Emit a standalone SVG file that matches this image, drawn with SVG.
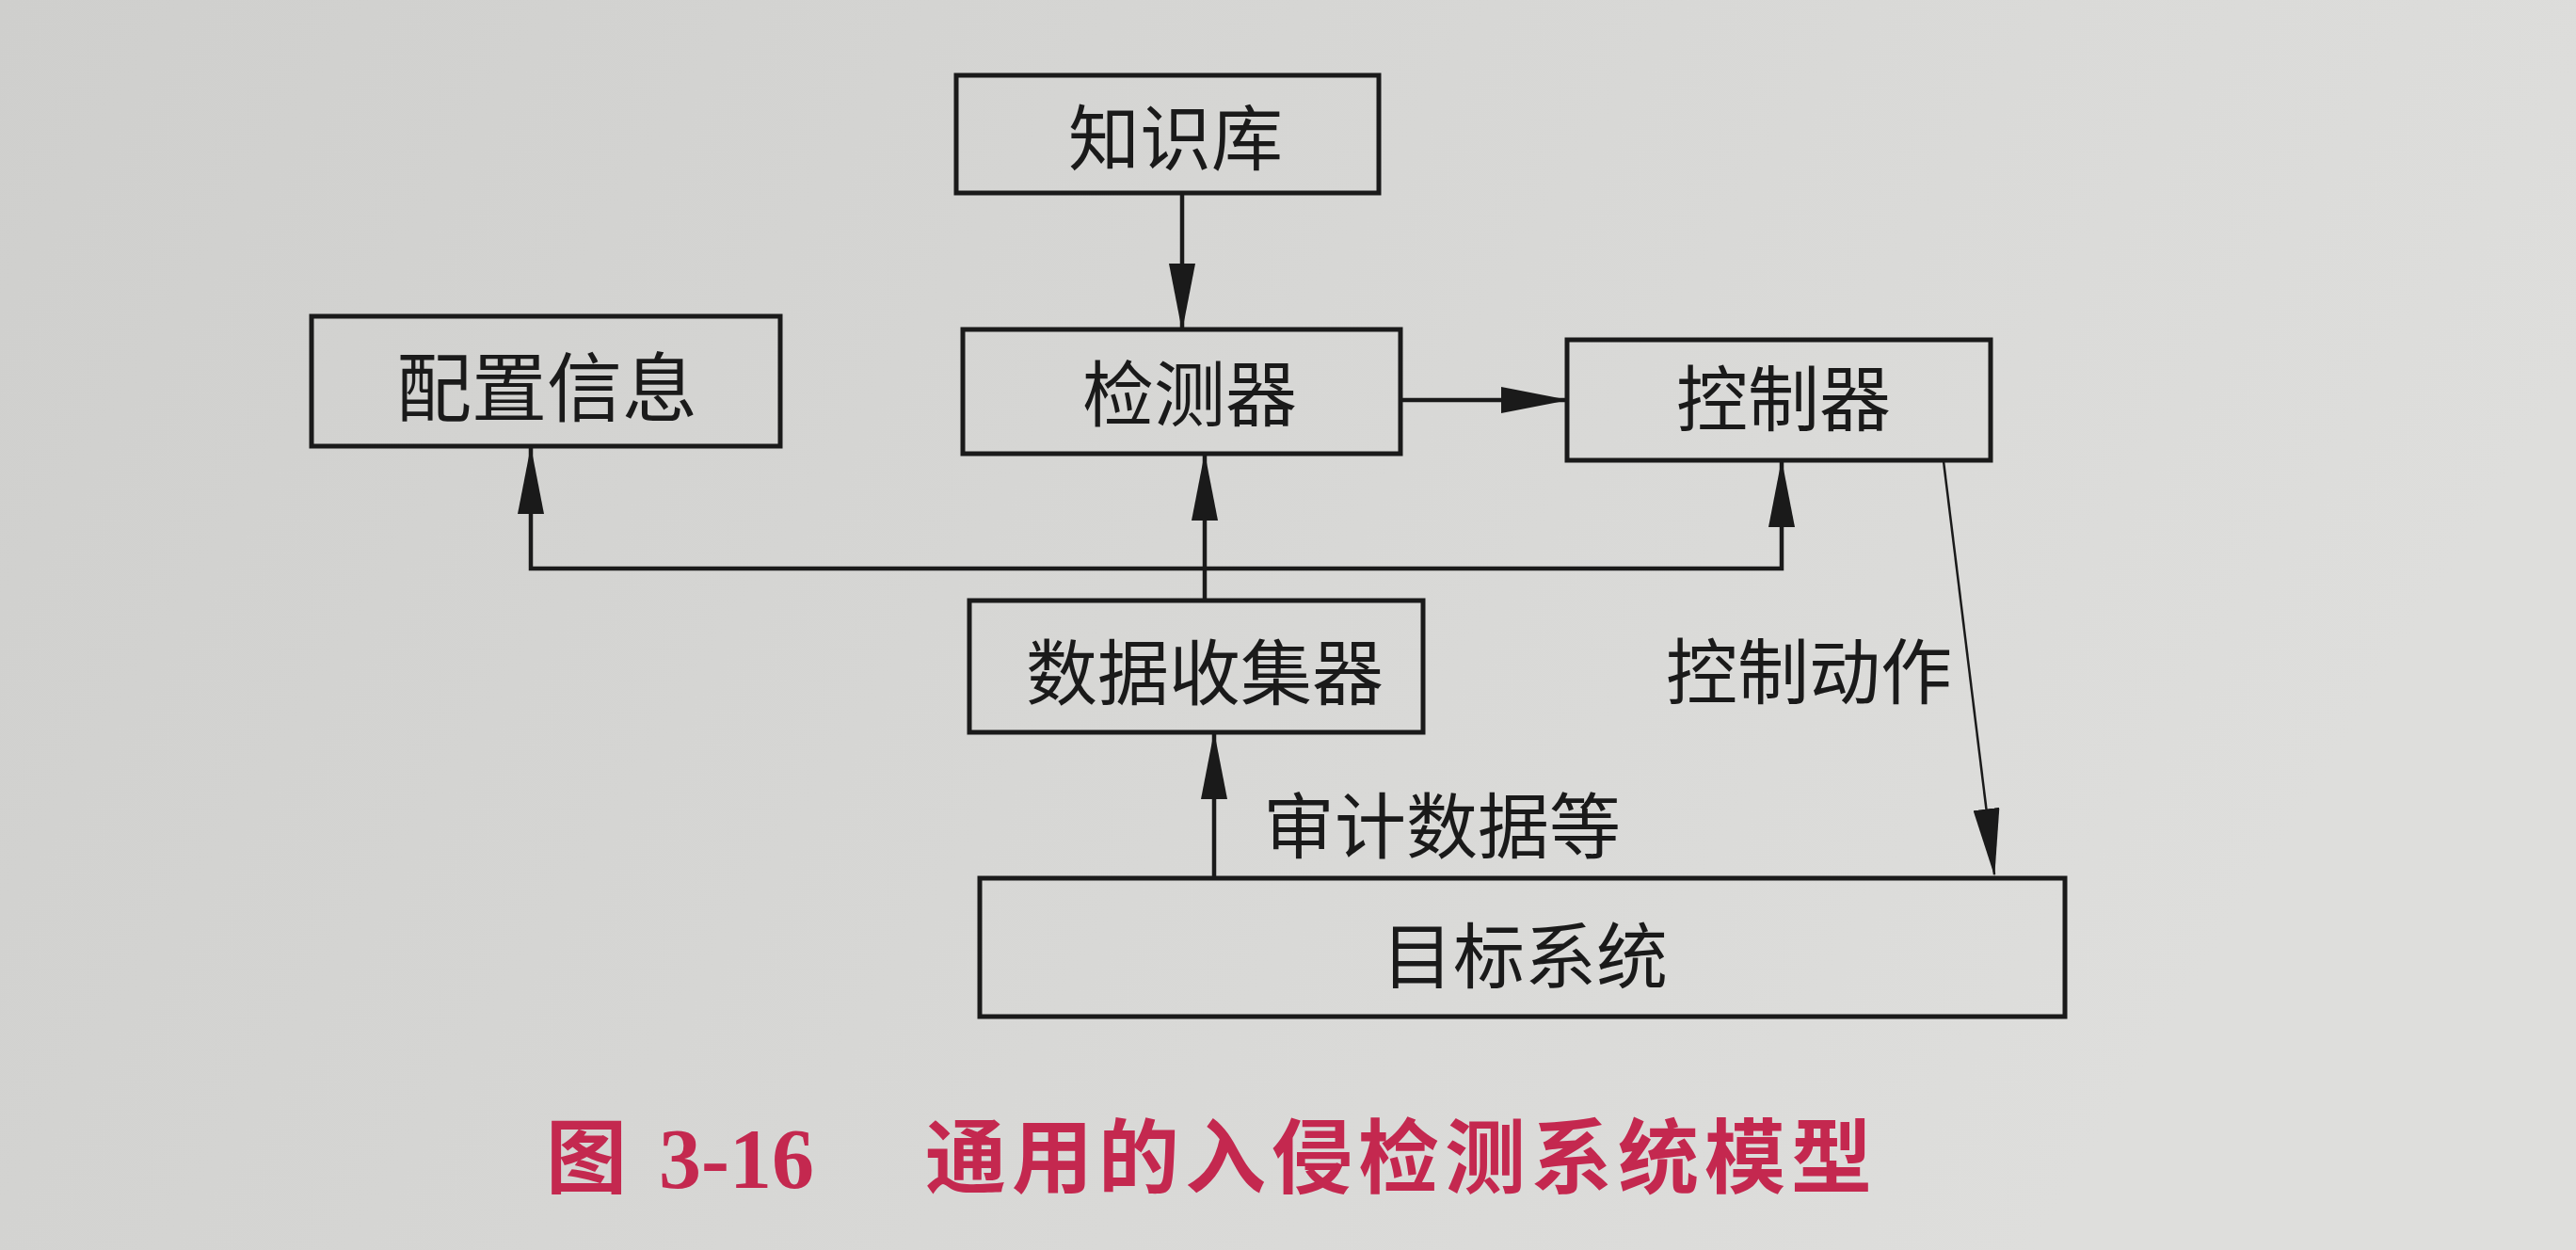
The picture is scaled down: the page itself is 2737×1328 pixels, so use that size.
<svg xmlns="http://www.w3.org/2000/svg" width="2737" height="1328" viewBox="0 0 2737 1328">
<defs>
<linearGradient id="bg" x1="0" y1="0" x2="1" y2="0.3">
<stop offset="0" stop-color="#cfcfcd"/>
<stop offset="0.6" stop-color="#d8d8d6"/>
<stop offset="1" stop-color="#dededc"/>
</linearGradient>
<marker id="ah" markerUnits="userSpaceOnUse" markerWidth="72" markerHeight="28" viewBox="0 0 72 28" refX="70" refY="14" orient="auto">
<path d="M0,0 L72,14 L0,28 Z" fill="#1a1a1a"/>
</marker>
</defs>
<style>
.box{fill:none;stroke:#1a1a1a;stroke-width:5}
.conn{fill:none;stroke:#1a1a1a;stroke-width:4.5}
.thin{fill:none;stroke:#1a1a1a;stroke-width:2.5}
.t{font-family:"Noto Sans CJK SC","Noto Sans",sans-serif;font-size:76px;fill:#1a1a1a;text-anchor:middle}
.cap{font-family:"Noto Sans CJK SC","Noto Sans",sans-serif;font-size:86px;font-weight:700;fill:#c4284f}
.capn{font-family:"Liberation Serif",serif;font-size:90px;font-weight:700;fill:#c4284f}
</style>
<rect x="0" y="0" width="2737" height="1328" fill="url(#bg)"/>
<g id="connectors">
<path class="conn" d="M1256,207 V350" marker-end="url(#ah)"/>
<path class="conn" d="M1489,425 H1665" marker-end="url(#ah)"/>
<path class="conn" d="M1280,638 V483" marker-end="url(#ah)"/>
<path class="conn" d="M1280,604 H564 V476" marker-end="url(#ah)"/>
<path class="conn" d="M1280,604 H1893 V490" marker-end="url(#ah)"/>
<path class="conn" d="M1290,935 V779" marker-end="url(#ah)"/>
<path class="thin" d="M2065,490 L2119,929" marker-end="url(#ah)"/>
<text class="t" x="1922" y="742">控制动作</text>
<text class="t" x="1532" y="906">审计数据等</text>
</g>
<g id="kb">
<rect class="box" x="1016" y="80" width="449" height="125"/>
<text class="t" x="1249" y="175">知识库</text>
</g>
<g id="config">
<rect class="box" x="331" y="336" width="498" height="138"/>
<text class="t" x="581" y="441" style="font-size:80px">配置信息</text>
</g>
<g id="detector">
<rect class="box" x="1023" y="350" width="465" height="132"/>
<text class="t" x="1264" y="447">检测器</text>
</g>
<g id="controller">
<rect class="box" x="1665" y="361" width="450" height="128"/>
<text class="t" x="1895" y="452">控制器</text>
</g>
<g id="collector">
<rect class="box" x="1030" y="638" width="482" height="140"/>
<text class="t" x="1280" y="743">数据收集器</text>
</g>
<g id="target">
<rect class="box" x="1041" y="933" width="1153" height="147"/>
<text class="t" x="1620" y="1044">目标系统</text>
</g>
<g id="caption">
<text class="cap" x="580" y="1261">图</text>
<text class="capn" x="700" y="1262">3-16</text>
<text class="cap" x="983" y="1261" letter-spacing="6">通用的入侵检测系统模型</text>
</g>
</svg>
